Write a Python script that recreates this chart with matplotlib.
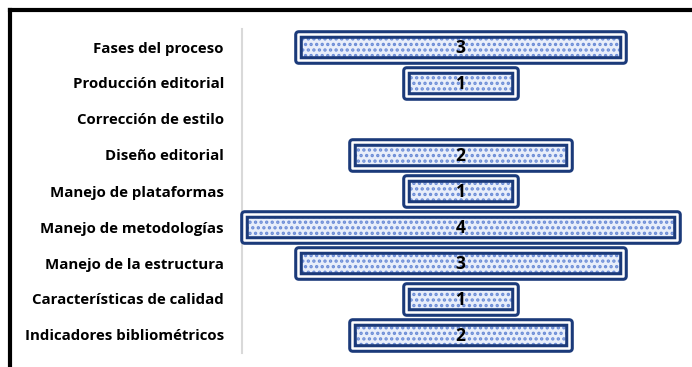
import matplotlib
matplotlib.use("Agg")
import matplotlib.pyplot as plt
from matplotlib.lines import Line2D

categorias = ["Fases del proceso", "Producción editorial", "Corrección de estilo",
              "Diseño editorial", "Manejo de plataformas", "Manejo de metodologías",
              "Manejo de la estructura", "Características de calidad",
              "Indicadores bibliométricos"]
valores = [3, 1, 0, 2, 1, 4, 3, 1, 2]

navy = "#1b3a7a"
plt.rcParams["font.family"] = ["Open Sans", "DejaVu Sans"]
plt.rcParams["hatch.linewidth"] = 1.6

fig = plt.figure(figsize=(6.92, 3.67), dpi=100)
ax = fig.add_axes([242 / 692, 14 / 367, 437 / 692, 324 / 367])

y = list(range(len(categorias)))
izq = [-v / 2 for v in valores]
alto = 0.72

for yi, v, l in zip(y, valores, izq):
    if v == 0:
        continue
    ax.barh(yi, v, left=l, height=alto, color="#e8eefa", edgecolor="#6a8bd6",
            hatch="...", linewidth=0, zorder=2, clip_on=False)
    ax.barh(yi, v, left=l, height=alto, fill=False, edgecolor=navy,
            linewidth=6.2, joinstyle="round", zorder=3, clip_on=False)
    ax.barh(yi, v, left=l, height=alto, fill=False, edgecolor="white",
            linewidth=1.8, joinstyle="round", zorder=4, clip_on=False)
    ax.text(0, yi + 0.03, str(v), ha="center", va="center", fontsize=12.5,
            fontweight="bold", color="black", zorder=5)

ax.set_xlim(-2.018, 2.018)
ax.set_ylim(len(categorias) - 0.5, -0.5)
ax.set_yticks(y)
ax.set_yticklabels(categorias, fontsize=10.8, fontweight="bold")
ax.tick_params(axis="y", length=0, pad=13)
ax.set_xticks([])
for s in ["top", "right", "bottom"]:
    ax.spines[s].set_visible(False)
ax.spines["left"].set_color("#d9d9d9")
ax.spines["left"].set_linewidth(1.5)

# marco negro arriba e izquierda
fig.add_artist(Line2D([9.5 / 692, 1], [1 - 9.5 / 367] * 2, color="black",
                      linewidth=3, transform=fig.transFigure))
fig.add_artist(Line2D([9.5 / 692] * 2, [0, 1 - 9.5 / 367], color="black",
                      linewidth=3, transform=fig.transFigure))

fig.savefig("out.png", dpi=100)
